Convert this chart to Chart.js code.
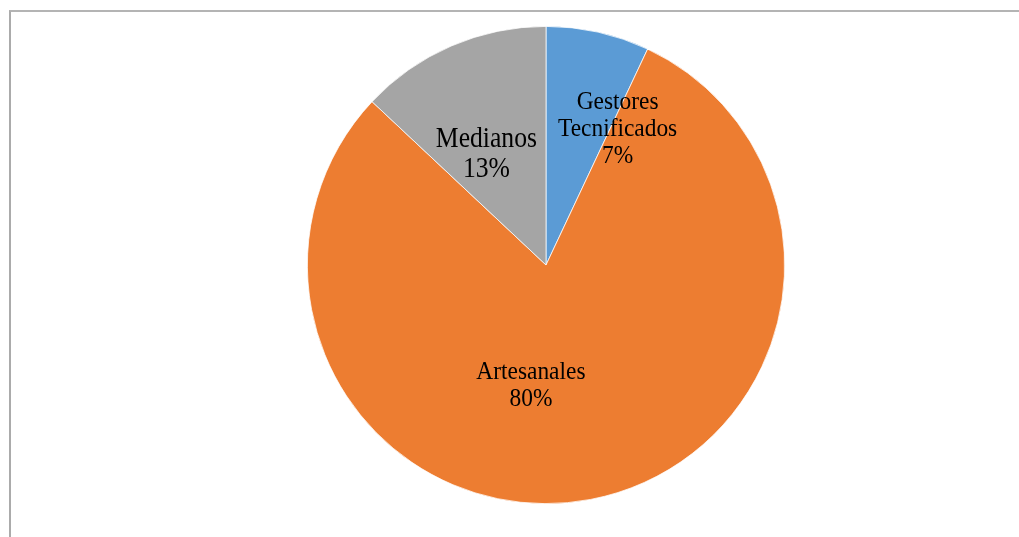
<!DOCTYPE html>
<html>
<head>
<meta charset="utf-8">
<script src="https://cdn.jsdelivr.net/npm/chart.js@4"></script>
<style>
  html, body { margin: 0; padding: 0; background: #fff; }
  body { width: 1019px; height: 537px; position: relative; overflow: hidden; }
  #frame { position: absolute; left: 9px; top: 10px; width: 1100px; height: 600px;
           border-left: 2px solid #ababab; border-top: 2px solid #b4b4b4; box-sizing: border-box; }
  #wrap { position: absolute; left: 0; top: 0; width: 1019px; height: 537px; }
</style>
</head>
<body>
<div id="frame"></div>
<div id="wrap"><canvas id="c" width="1019" height="537"></canvas></div>
<script>
const categories = ["Gestores\nTecnificados", "Artesanales", "Medianos"];
const percentLabels = ["7%", "80%", "13%"];
const values = [7, 80, 13];
const colors = ["#5B9BD5", "#ED7D31", "#A5A5A5"];

// label placement / style tweaks
const labelAngleOffset = [14.9, 18.0, -4.6];   // degrees from slice mid-angle
const labelRadiusFrac = [0.65, 0.504, 0.532];
const labelFontSize = [26, 26, 28.5];
const labelLineHeight = [27, 27, 30];
const labelScaleX = 0.9;

const labelPlugin = {
  id: 'sliceLabels',
  afterDatasetsDraw(chart) {
    const ctx = chart.ctx;
    const meta = chart.getDatasetMeta(0);
    meta.data.forEach((arc, i) => {
      const p = arc.getProps(['x', 'y', 'startAngle', 'endAngle', 'outerRadius'], true);
      const mid = (p.startAngle + p.endAngle) / 2 + labelAngleOffset[i] * Math.PI / 180;
      const r = p.outerRadius * labelRadiusFrac[i];
      const cx = p.x + Math.cos(mid) * r;
      const cy = p.y + Math.sin(mid) * r;
      const fs = labelFontSize[i];
      const lh = labelLineHeight[i];
      const lines = categories[i].split('\n').concat([percentLabels[i]]);
      const y0 = cy - (lines.length - 1) * lh / 2;
      lines.forEach((t, k) => {
        ctx.save();
        ctx.font = fs + 'px "Liberation Serif", "Times New Roman", serif';
        ctx.fillStyle = '#000';
        ctx.textAlign = 'center';
        ctx.textBaseline = 'alphabetic';
        ctx.translate(cx, y0 + k * lh + fs * 0.33);
        ctx.scale(labelScaleX, 1);
        ctx.fillText(t, 0, 0);
        ctx.restore();
      });
    });
  }
};

new Chart(document.getElementById('c'), {
  type: 'pie',
  data: {
    labels: categories.map(s => s.replace('\n', ' ')),
    datasets: [{
      data: values,
      backgroundColor: colors,
      borderColor: '#ffffff',
      borderWidth: 0.75
    }]
  },
  options: {
    responsive: false,
    animation: false,
    layout: { padding: { left: 300, right: 227, top: 26, bottom: 33 } },
    plugins: { legend: { display: false }, tooltip: { enabled: false } }
  },
  plugins: [labelPlugin]
});
</script>
</body>
</html>
